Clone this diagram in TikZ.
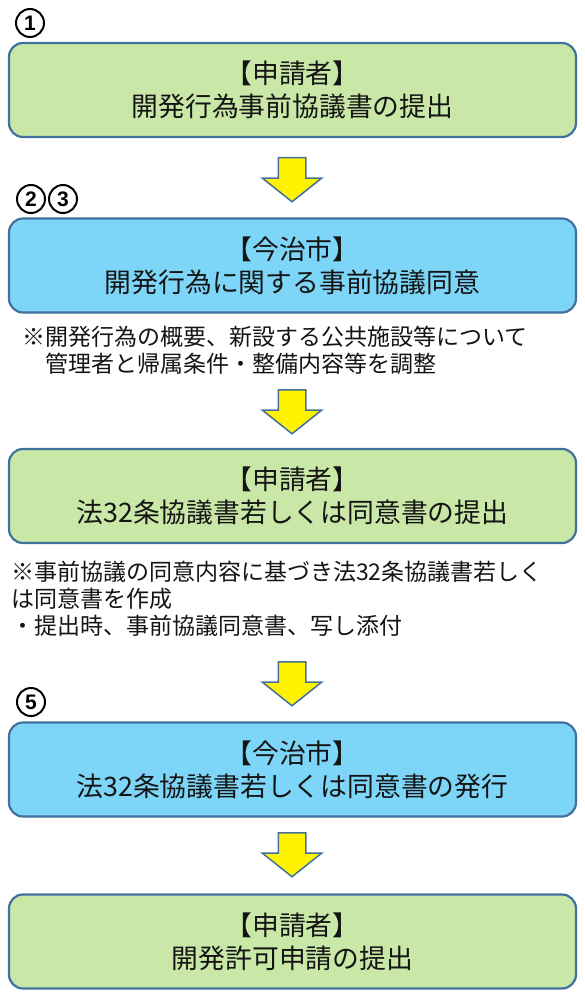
\documentclass[tikz,border=0pt]{standalone}
\usepackage{fontspec}
\usepackage{tikz, xcolor}
\usetikzlibrary{shapes.arrows}
\newfontfamily\jp{Noto Sans CJK JP}
\newfontfamily\numfont{Liberation Sans}

\definecolor{applicant}{RGB}{201,231,167}
\definecolor{city}{RGB}{125,213,248}
\definecolor{edge}{RGB}{65,113,156}
\definecolor{ink}{RGB}{20,20,20}

\tikzset{
  stepbox/.style={draw=edge, line width=2.2pt, rounded corners=14pt, minimum width=567pt,
    minimum height=94pt, align=center, text=ink, font=\jp\fontsize{26.8}{33}\selectfont},
  note/.style={align=left, inner sep=0pt, anchor=west, text=ink, font=\jp\fontsize{23}{27}\selectfont},
  circnum/.style={circle, draw=black, line width=2pt, minimum size=28pt, inner sep=0pt,
    font=\numfont\bfseries\fontsize{21}{21}\selectfont},
  down/.style={single arrow, draw=edge, line width=1.5pt, fill=yellow, rotate=-90, anchor=tail,
    minimum height=44pt, inner xsep=0pt, inner ysep=13pt, single arrow head extend=16pt,
    single arrow tip angle=103}
}

\begin{document}
\begin{tikzpicture}[x=1pt, y=-1pt]
    \useasboundingbox (0,0) rectangle (585,1000);

    \node[circnum] (n1) at (30,23) {1};
    \node[stepbox, fill=applicant] (s1) at (292.5,90) {【申請者】\\開発行為事前協議書の提出};

    \node[down] (a1) at (292,157) {};

    \node[circnum] (n2) at (31,199) {2};
    \node[circnum] (n3) at (63,199) {3};
    \node[stepbox, fill=city] (s2) at (292.5,265.5) {【今治市】\\開発行為に関する事前協議同意};

    \node[note] (c2) at (22,350) {※開発行為の概要、新設する公共施設等について\\\hspace*{1em}管理者と帰属条件・整備内容等を調整};

    \node[down] (a2) at (292,389) {};

    \node[stepbox, fill=applicant] (s3) at (292.5,496) {【申請者】\\法32条協議書若しくは同意書の提出};

    \node[note] (c3) at (11,599) {※事前協議の同意内容に基づき法32条協議書若しく\\は同意書を作成\\・提出時、事前協議同意書、写し添付};

    \node[down] (a3) at (292,661) {};

    \node[circnum] (n5) at (31,702) {5};
    \node[stepbox, fill=city] (s4) at (292.5,769.5) {【今治市】\\法32条協議書若しくは同意書の発行};

    \node[down] (a4) at (292,832) {};

    \node[stepbox, fill=applicant] (s5) at (292.5,941.5) {【申請者】\\開発許可申請の提出};
\end{tikzpicture}
\end{document}
